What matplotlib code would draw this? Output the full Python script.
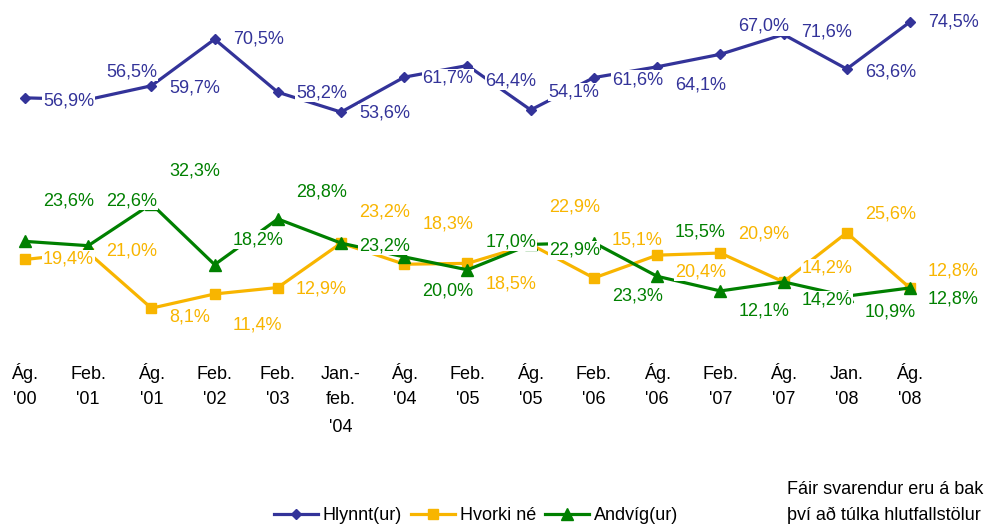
import matplotlib
matplotlib.use("Agg")
import matplotlib.pyplot as plt

plt.rcParams['font.family'] = ['Liberation Sans', 'DejaVu Sans']

# --- data ---
periods = ["Ág.\n'00", "Feb.\n'01", "Ág.\n'01", "Feb.\n'02", "Feb.\n'03",
           "Jan.-\nfeb.\n'04", "Ág.\n'04", "Feb.\n'05", "Ág.\n'05", "Feb.\n'06",
           "Ág.\n'06", "Feb.\n'07", "Ág.\n'07", "Jan.\n'08", "Ág.\n'08"]
hlynnt = [56.9, 56.5, 59.7, 70.5, 58.2, 53.6, 61.7, 64.4, 54.1, 61.6, 64.1, 67.0, 71.6, 63.6, 74.5]
hvorki = [19.4, 21.0, 8.1, 11.4, 12.9, 23.2, 18.3, 18.5, 22.9, 15.1, 20.4, 20.9, 14.2, 25.6, 12.8]
andvig = [23.6, 22.6, 32.3, 18.2, 28.8, 23.2, 20.0, 17.0, 22.9, 23.3, 15.5, 12.1, 14.2, 10.9, 12.8]
series_names = ["Hlynnt(ur)", "Hvorki né", "Andvíg(ur)"]
note_lines = ["Fáir svarendur eru á bak", "því að túlka hlutfallstölur"]

# label placement (vertical pixel offsets, + is up)
dy_blue = [-3, 28, -2, 0, -1, -1, -1, -15, 18, -2, -18, 28, 2, -3, 0]
dy_orange = [0, 2, -9, -31, -1, 31, 40, -21, 37, 38, -17, 19, 14, 19, 17]
dy_green = [40, 45, 33, 25, 27, -3, -34, 28, -6, -53, 44, -20, -18, -16, -11]

blue = "#333399"
orange = "#F8B500"
green = "#008000"

fig = plt.figure(figsize=(9.86, 5.24), dpi=100)
ax = fig.add_axes([0, 174 / 524, 1, 350 / 524])
x = list(range(len(periods)))
ax.set_xlim(-25 / 63.21, (986 - 25) / 63.21)
ax.set_ylim(-1.6, 79.6)

ax.plot(x, hlynnt, color=blue, lw=2.3, marker="D", ms=5, clip_on=False, label=series_names[0])
ax.plot(x, hvorki, color=orange, lw=2.3, marker="s", ms=7, clip_on=False, label=series_names[1])
ax.plot(x, andvig, color=green, lw=2.3, marker="^", ms=8, clip_on=False, label=series_names[2])

def add_labels(vals, offs, col):
    for i, (v, d) in enumerate(zip(vals, offs)):
        ax.annotate(f"{v:.1f}%".replace(".", ","), (i, v), xytext=(18, d),
                    textcoords="offset pixels", ha="left", va="center",
                    fontsize=13, color=col, zorder=5,
                    bbox=dict(facecolor="white", edgecolor="none", pad=0.5))

add_labels(hlynnt, dy_blue, blue)
add_labels(hvorki, dy_orange, orange)
add_labels(andvig, dy_green, green)

# category labels, one text per line so rows share a baseline
row_base = [29, 54, 82]
for i, lab in enumerate(periods):
    for k, part in enumerate(lab.split("\n")):
        ax.annotate(part, (i, 0), xycoords=ax.get_xaxis_transform(),
                    xytext=(0, -row_base[k]), textcoords="offset pixels",
                    ha="center", va="baseline", fontsize=13, annotation_clip=False)

ax.set_xticks([])
ax.set_yticks([])
for s in ax.spines.values():
    s.set_visible(False)

fig.legend(loc="center", bbox_to_anchor=(0.483, 1 - 516 / 524), ncol=3, frameon=False,
           fontsize=13, handlelength=2.4, handletextpad=0.3, columnspacing=0.5)

fig.text(787 / 986, 1 - 490 / 524, note_lines[0], fontsize=13, va="center")
fig.text(787 / 986, 1 - 515 / 524, note_lines[1], fontsize=13, va="center")

fig.savefig("out.png", dpi=100)
